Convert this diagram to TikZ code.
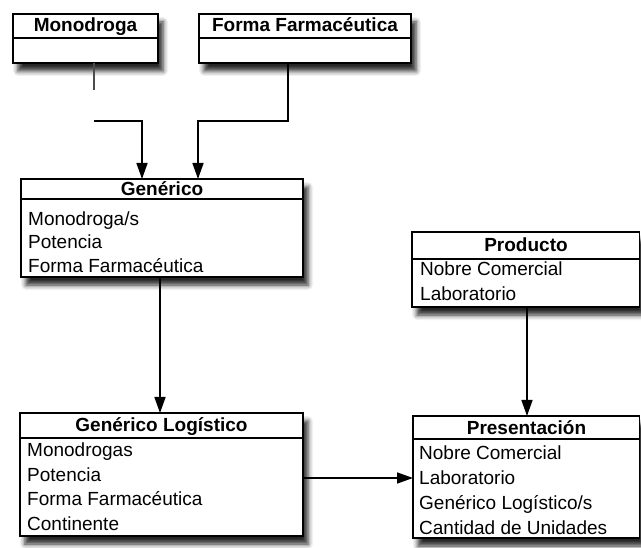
\documentclass[tikz,border=0pt]{standalone}
\usepackage{fontspec}
\setmainfont{Liberation Sans}
\usetikzlibrary{arrows.meta,shadows.blur}
\tikzset{
  classbox/.style={draw=black, line width=1.3pt, fill=white, rectangle, inner sep=0pt, outer sep=0pt, anchor=north west,
    blur shadow={shadow xshift=5pt, shadow yshift=-8pt, shadow blur radius=5pt, shadow opacity=85}},
  divider/.style={draw=black, line width=1.2pt},
  titletext/.style={anchor=base, inner sep=0pt, font=\fontsize{19}{23}\selectfont\bfseries},
  rowtext/.style={anchor=base west, inner sep=0pt, font=\fontsize{19}{23}\selectfont},
  link/.style={draw=black, line width=1.6pt, -{Triangle[width=11pt,length=16pt]}},
  stub/.style={draw=black!70, line width=1.2pt}
}
\begin{document}
\begin{tikzpicture}[x=1pt,y=-1pt]
\useasboundingbox (0,0) rectangle (641,548);
% boxes
\node[classbox, minimum width=145pt, minimum height=49pt] (mono) at (13,14) {};
\node[classbox, minimum width=212pt, minimum height=49pt] (forma) at (199,14) {};
\node[classbox, minimum width=282pt, minimum height=98pt] (gen) at (21,179) {};
\node[classbox, minimum width=283pt, minimum height=123pt] (log) at (20,413) {};
\node[classbox, minimum width=227.5pt, minimum height=75pt] (prod) at (412,232) {};
\node[classbox, minimum width=226.5pt, minimum height=122pt] (pres) at (413,416) {};
% dividers
\draw[divider] ([yshift=-24pt]mono.north west) -- ([yshift=-24pt]mono.north east);
\draw[divider] ([yshift=-24pt]forma.north west) -- ([yshift=-24pt]forma.north east);
\draw[divider] ([yshift=-20pt]gen.north west) -- ([yshift=-20pt]gen.north east);
\draw[divider] ([yshift=-25pt]log.north west) -- ([yshift=-25pt]log.north east);
\draw[divider] ([yshift=-27pt]prod.north west) -- ([yshift=-27pt]prod.north east);
\draw[divider] ([yshift=-23pt]pres.north west) -- ([yshift=-23pt]pres.north east);
% titles
\node[titletext] (mono-t) at (85.5,32) {Monodroga};
\node[titletext] (forma-t) at (305,32) {Forma Farmacéutica};
\node[titletext] (gen-t) at (162,196) {Genérico};
\node[titletext] (log-t) at (161.5,432) {Genérico Logístico};
\node[titletext] (prod-t) at (526,252) {Producto};
\node[titletext] (pres-t) at (526.5,435) {Presentación};
% rows
\node[rowtext] (gen-1) at (28,226) {Monodroga/s};
\node[rowtext] (gen-2) at (28,249) {Potencia};
\node[rowtext] (gen-3) at (28,273) {Forma Farmacéutica};
\node[rowtext] (log-1) at (27,457) {Monodrogas};
\node[rowtext] (log-2) at (27,481.5) {Potencia};
\node[rowtext] (log-3) at (27,506) {Forma Farmacéutica};
\node[rowtext] (log-4) at (27,530.5) {Continente};
\node[rowtext] (prod-1) at (420,276) {Nobre Comercial};
\node[rowtext] (prod-2) at (420,301) {Laboratorio};
\node[rowtext] (pres-1) at (419,460) {Nobre Comercial};
\node[rowtext] (pres-2) at (419,485) {Laboratorio};
\node[rowtext] (pres-3) at (419,510) {Genérico Logístico/s};
\node[rowtext] (pres-4) at (419,535) {Cantidad de Unidades};
% connector helper coordinates
\coordinate (m1) at (94,90);
\coordinate (m2) at (94,121);
\coordinate (ga) at (142,0);
\coordinate (f1) at (288,0);
\coordinate (f2) at (198,121);
\coordinate (g1) at (160,0);
\coordinate (p1) at (527,0);
\coordinate (h1) at (0,478);
% connectors
\draw[stub] (m1 |- mono.south) -- (m1);
\draw[link] (m2) -| (ga |- gen.north);
\draw[link] (f1 |- forma.south) |- (f2) -- (f2 |- gen.north);
\draw[link] (g1 |- gen.south) -- (g1 |- log.north);
\draw[link] (p1 |- prod.south) -- (p1 |- pres.north);
\draw[link] (log.east |- h1) -- (pres.west |- h1);
\end{tikzpicture}
\end{document}
